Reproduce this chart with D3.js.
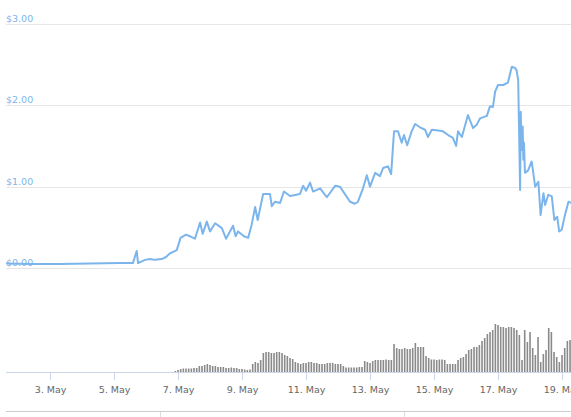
<!doctype html>
<html lang="en">
<head>
  <meta charset="utf-8">
  <title>Price and volume</title>
  <script src="https://d3js.org/d3.v7.min.js"></script>
  <style>
    body { margin: 0; background: #fff; }
    svg text { font-family: 'DejaVu Sans', Verdana, sans-serif; }
  </style>
</head>
<body>
<svg id="chart" width="571" height="417"></svg>
<script>
// price: day of May (fractional, UTC) and value in dollars
const priceDays = [1.625, 2.375, 3.31, 4.25, 5.19, 5.59, 5.71, 5.75, 5.97, 6.125, 6.28, 6.49, 6.625, 6.75, 6.96,
  7.08, 7.25, 7.375, 7.53, 7.69, 7.77, 7.90, 8.0, 8.16, 8.37, 8.5, 8.72, 8.80, 8.875, 9.06, 9.19, 9.30, 9.41, 9.49,
  9.66, 9.875, 9.93, 10.03, 10.19, 10.31, 10.5, 10.81, 10.91, 11.0, 11.125, 11.22, 11.44, 11.65, 11.91, 12.06,
  12.375, 12.53, 12.625, 12.78, 12.90, 13.0, 13.16, 13.31, 13.41, 13.56, 13.66, 13.75, 13.875, 13.99, 14.06, 14.16,
  14.30, 14.41, 14.56, 14.72, 14.81, 14.93, 15.125, 15.28, 15.44, 15.59, 15.69, 15.75, 15.87, 16.06, 16.22, 16.33,
  16.44, 16.65, 16.75, 16.84, 16.91, 17.0, 17.16, 17.31, 17.43, 17.53, 17.58, 17.63, 17.69, 17.71, 17.74, 17.77,
  17.79, 17.81, 17.84, 17.94, 18.05, 18.09, 18.16, 18.26, 18.33, 18.42, 18.47, 18.57, 18.68, 18.76, 18.85, 18.91,
  18.99, 19.09, 19.20, 19.28];
const priceValues = [0.055, 0.05, 0.05, 0.055, 0.06, 0.06, 0.21, 0.06, 0.10, 0.11, 0.10, 0.11, 0.135, 0.18, 0.22,
  0.37, 0.41, 0.39, 0.36, 0.56, 0.42, 0.57, 0.45, 0.55, 0.49, 0.36, 0.52, 0.39, 0.45, 0.39, 0.37, 0.53, 0.75, 0.59,
  0.91, 0.91, 0.76, 0.815, 0.80, 0.94, 0.885, 0.91, 1.01, 0.95, 1.05, 0.94, 0.98, 0.87, 1.01, 1.0,
  0.815, 0.79, 0.815, 0.98, 1.14, 1.0, 1.17, 1.13, 1.23, 1.25, 1.155, 1.68, 1.68, 1.54, 1.635, 1.51,
  1.68, 1.77, 1.73, 1.70, 1.61, 1.70, 1.69, 1.68, 1.635, 1.60, 1.50, 1.68, 1.61, 1.88, 1.72, 1.76,
  1.84, 1.87, 1.99, 1.98, 2.17, 2.25, 2.25, 2.28, 2.475, 2.46, 2.43, 2.31, 0.96, 1.92, 1.45, 1.74,
  1.33, 1.54, 1.17, 1.20, 1.31, 1.20, 1.0, 1.06, 0.65, 0.92, 0.775, 0.90, 0.88, 0.59, 0.63, 0.45,
  0.47, 0.65, 0.815, 0.80];

// volume: one bar every 2 hours, starting 6 May 22:00
const volumeStartDay = 6 + 22 / 24;
const volumeStepHours = 2;
const volumeValues = [1,
  2, 3, 3.5, 3.5, 3.5, 3.5, 4, 4, 6, 6, 7, 8,
  7, 6, 6, 5, 5, 5, 4, 4, 4.5, 4, 4, 3,
  3, 2.5, 2, 2.5, 8, 10, 9, 12, 19, 20, 20, 19,
  19, 20, 20, 19, 17, 16, 14, 13, 10, 9, 8, 9,
  9, 10, 10, 9, 9, 8, 8, 8, 9, 9, 9, 8,
  8, 8, 6, 4.5, 4.5, 4.5, 4.5, 4.5, 5, 5, 11, 10,
  9, 11, 12, 12, 12, 12, 12.5, 12, 12, 28, 24, 23,
  23, 24, 23, 23, 24, 29, 25, 25, 25, 16, 14, 12.5,
  12.5, 12, 12.5, 12.5, 12, 8, 8, 8, 8, 12, 14, 15,
  18, 22, 23, 25, 25, 27, 31, 34, 38, 40, 42, 48,
  47, 45, 45, 44, 45, 45, 44, 42, 37, 12, 42, 30,
  40, 24, 17, 35, 10, 18, 22, 44, 40, 20, 15, 10,
  17, 24, 31, 32];

const priceTicks = [0, 1, 2, 3];
const dateTicks = [3, 5, 7, 9, 11, 13, 15, 17, 19];

const dayToDate = d => new Date(Date.UTC(2018, 4, 1) + (d - 1) * 864e5);

const svg = d3.select("#chart");
const left = 6, right = 571;

const x = d3.scaleUtc()
  .domain([dayToDate(1.625), dayToDate(19.28)])
  .range([left, right]);
const y = d3.scaleLinear().domain([0, 3]).range([268, 24]);
const yVol = d3.scaleLinear().domain([0, 72]).range([372, 300]);

// price grid and labels
svg.append("g").selectAll("line")
  .data(priceTicks).join("line")
  .attr("x1", left).attr("x2", right)
  .attr("y1", d => Math.round(y(d)) + 0.5).attr("y2", d => Math.round(y(d)) + 0.5)
  .attr("stroke", "#e6e6e6");

svg.append("g").selectAll("text")
  .data(priceTicks).join("text")
  .attr("x", left).attr("y", d => y(d) - 2)
  .attr("font-size", "9.5px")
  .attr("fill", "#7cb5ec")
  .text(d => "$" + d.toFixed(2));

// volume bars
const volume = volumeValues.map((v, i) => ({
  t: dayToDate(volumeStartDay + i * volumeStepHours / 24), v
}));
svg.append("g").selectAll("rect")
  .data(volume).join("rect")
  .attr("x", d => x(d.t) - 0.8)
  .attr("width", 1.6)
  .attr("y", d => yVol(d.v))
  .attr("height", d => yVol(0) - yVol(d.v))
  .attr("fill", "#8a8a8a");

// price line
const price = priceDays.map((d, i) => ({ t: dayToDate(d), v: priceValues[i] }));
svg.append("path")
  .datum(price)
  .attr("fill", "none")
  .attr("stroke", "#7cb5ec")
  .attr("stroke-width", 2)
  .attr("stroke-linejoin", "round")
  .attr("d", d3.line().x(d => x(d.t)).y(d => y(d.v)));

// x axis
const xAxis = d3.axisBottom(x)
  .tickValues(dateTicks.map(dayToDate))
  .tickSize(8)
  .tickPadding(6)
  .tickFormat(d => d.getUTCDate() + ". May");

const gx = svg.append("g")
  .attr("transform", "translate(0,372)")
  .call(xAxis);
gx.select(".domain").attr("stroke", "#ccd6eb").attr("d", `M${left},0.5H${right}`);
gx.selectAll(".tick line").attr("stroke", "#ccd6eb");
gx.selectAll(".tick text").attr("fill", "#666").attr("font-size", "9.5px")
  .attr("font-family", "'DejaVu Sans', Verdana, sans-serif");

// navigator edge
svg.append("line")
  .attr("x1", left).attr("x2", right).attr("y1", 411.5).attr("y2", 411.5)
  .attr("stroke", "#cccccc");
svg.append("g").selectAll("line")
  .data([160, 404]).join("line")
  .attr("x1", d => d + 0.5).attr("x2", d => d + 0.5)
  .attr("y1", 412).attr("y2", 417)
  .attr("stroke", "#dddddd");
</script>
</body>
</html>
